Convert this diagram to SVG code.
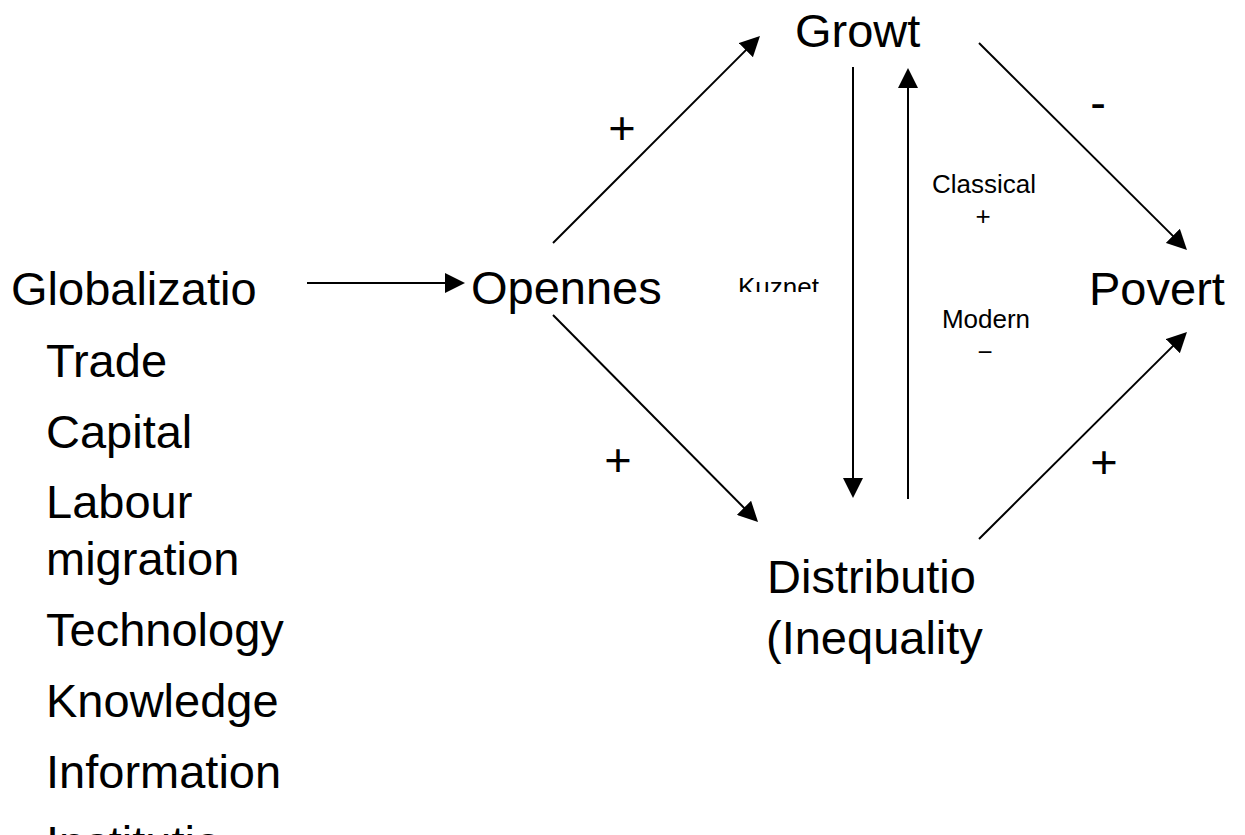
<svg xmlns="http://www.w3.org/2000/svg" width="1245" height="835" viewBox="0 0 1245 835">
<style>
  .big { font-family: "Liberation Sans", Arial, sans-serif; font-size: 47px; fill: #000; }
  .small { font-family: "Liberation Sans", Arial, sans-serif; font-size: 26px; fill: #000; }
  .conn { stroke: #000; stroke-width: 2; fill: none; marker-end: url(#arrow); }
</style>
<defs>
  <marker id="arrow" markerUnits="userSpaceOnUse" markerWidth="20" markerHeight="20" refX="10" refY="10" orient="auto">
    <path d="M0,0 L20,10 L0,20 Z" fill="#000"/>
  </marker>
  <clipPath id="kclip"><rect x="700" y="250" width="150" height="42"/></clipPath>
</defs>
<rect width="1245" height="835" fill="#fff"/>

<g id="globalization">
  <text class="big" x="11" y="305">Globalizatio</text>
  <text class="big" x="46" y="377">Trade</text>
  <text class="big" x="46" y="448">Capital</text>
  <text class="big" x="46" y="518">Labour</text>
  <text class="big" x="46" y="575">migration</text>
  <text class="big" x="46" y="646">Technology</text>
  <text class="big" x="46" y="717">Knowledge</text>
  <text class="big" x="46" y="788">Information</text>
  <text class="big" x="46" y="859">Institutio</text>
</g>
<g id="openness"><text class="big" x="471" y="304">Opennes</text></g>
<g id="growth"><text class="big" x="795" y="47">Growt</text></g>
<g id="poverty"><text class="big" x="1089" y="305">Povert</text></g>
<g id="distribution">
  <text class="big" x="767" y="593">Distributio</text>
  <text class="big" x="766" y="654">(Inequality</text>
</g>

<g id="connectors">
  <line class="conn" x1="307" y1="283" x2="455" y2="283"/>
  <line class="conn" x1="553" y1="243" x2="752.9" y2="43.1"/>
  <line class="conn" x1="553" y1="315" x2="751" y2="514.9"/>
  <line class="conn" x1="853" y1="67" x2="853" y2="488"/>
  <line class="conn" x1="908" y1="499" x2="908" y2="78"/>
  <line class="conn" x1="979" y1="43" x2="1179.9" y2="242.9"/>
  <line class="conn" x1="979" y1="539" x2="1179.9" y2="339.1"/>
</g>

<g id="labels">
  <text class="big" x="622" y="144" text-anchor="middle">+</text>
  <text class="big" x="618" y="476" text-anchor="middle">+</text>
  <text class="big" x="1098" y="119" text-anchor="middle">-</text>
  <text class="big" x="1104" y="478" text-anchor="middle">+</text>
  <text class="small" x="984" y="193" text-anchor="middle">Classical</text>
  <text class="small" x="983" y="225" text-anchor="middle">+</text>
  <text class="small" x="986" y="328" text-anchor="middle">Modern</text>
  <text class="small" x="985" y="361" text-anchor="middle">−</text>
  <g clip-path="url(#kclip)"><text class="small" x="738" y="296">Kuznet</text></g>
</g>
</svg>
